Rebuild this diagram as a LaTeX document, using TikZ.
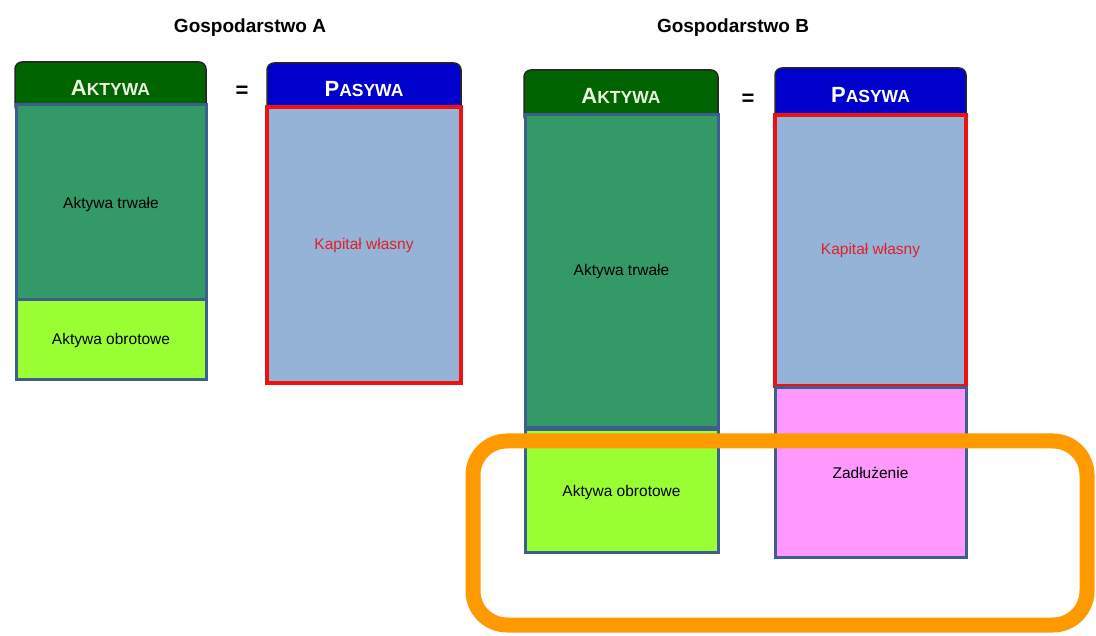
\documentclass[tikz,border=0pt]{standalone}
\usepackage{fontspec}
\setmainfont{Liberation Sans}
\definecolor{hdrgreen}{HTML}{006400}
\definecolor{hdrblue}{HTML}{0000CC}
\definecolor{trwale}{HTML}{339966}
\definecolor{obrot}{HTML}{99FF33}
\definecolor{kapital}{HTML}{95B3D7}
\definecolor{zadl}{HTML}{FF99FF}
\definecolor{edgeblue}{HTML}{3D5F8F}
\definecolor{kapred}{HTML}{EE1111}
\definecolor{kaptext}{HTML}{E0202A}
\definecolor{frameorange}{HTML}{FF9900}
\definecolor{hdrtextg}{HTML}{E8F4DC}
\begin{document}
\begin{tikzpicture}[x=1pt,y=-1pt,
  every node/.style={outer sep=0pt},
  hdrbox/.style={draw=black!85, line width=1.5pt, rounded corners=7pt, anchor=north west, inner sep=0pt},
  hdrtext/.style={font=\bfseries, inner sep=0pt},
  body/.style={draw=edgeblue, line width=3pt, anchor=north west, inner sep=0pt, align=center, font=\fontsize{15.5}{18}\selectfont},
  kap/.style={body, draw=kapred, line width=3.5pt, fill=kapital, text=kaptext},
  title/.style={font=\bfseries\fontsize{19}{22}\selectfont},
  eq/.style={font=\bfseries\fontsize{22}{24}\selectfont}
]
\useasboundingbox (0,0) rectangle (1096,636);
\fill[white] (0,0) rectangle (1096,636);

% titles
\node[title] (tA) at (250,28) {Gospodarstwo A};
\node[title] (tB) at (733,28) {Gospodarstwo B};

% ---------- Gospodarstwo A ----------
\node[hdrbox, fill=hdrgreen, minimum width=191pt, minimum height=51pt] (hA) at (15,62) {};
\node[hdrtext, text=hdrtextg] (hAt) at (110.5,88) {{\fontsize{22}{24}\selectfont A}{\fontsize{17.5}{20}\selectfont KTYWA}};
\node[body, fill=trwale, minimum width=190pt, minimum height=195pt, text depth=-9pt] (atA) at (16,105) {Aktywa trwałe};
\node[body, fill=obrot, minimum width=190pt, minimum height=80pt] (aoA) at (16,300) {Aktywa obrotowe};

\node[eq] (eqA) at (242,92) {=};

\node[hdrbox, fill=hdrblue, minimum width=194pt, minimum height=52pt] (hPA) at (267,63) {};
\node[hdrtext, text=white] (hPAt) at (364,89) {{\fontsize{22}{24}\selectfont P}{\fontsize{17.5}{20}\selectfont ASYWA}};
\node[kap, minimum width=194pt, minimum height=276pt] (kA) at (267,107) {Kapitał własny};

% ---------- Gospodarstwo B ----------
\node[hdrbox, fill=hdrgreen, minimum width=194pt, minimum height=53pt] (hB) at (524,70) {};
\node[hdrtext, text=hdrtextg] (hBt) at (621,96) {{\fontsize{22}{24}\selectfont A}{\fontsize{17.5}{20}\selectfont KTYWA}};
\node[body, fill=trwale, minimum width=193pt, minimum height=313pt] (atB) at (525,115) {Aktywa trwałe};
\node[body, fill=obrot, minimum width=193pt, minimum height=122pt, text depth=-2pt] (aoB) at (525,430) {Aktywa obrotowe};

\node[eq] (eqB) at (748,100) {=};

\node[hdrbox, fill=hdrblue, minimum width=191pt, minimum height=55pt] (hPB) at (775,68) {};
\node[hdrtext, text=white] (hPBt) at (870.5,95) {{\fontsize{22}{24}\selectfont P}{\fontsize{17.5}{20}\selectfont ASYWA}};
\node[kap, minimum width=191pt, minimum height=271pt] (kB) at (775,115) {Kapitał własny};
\node[body, fill=zadl, minimum width=191pt, minimum height=169pt] (zB) at (775,388) {Zadłużenie};

% orange highlight frame
\node[draw=frameorange, line width=15pt, rounded corners=34pt, anchor=north west, minimum width=614pt, minimum height=184pt, inner sep=0pt] (frame) at (473,441) {};
\end{tikzpicture}
\end{document}
